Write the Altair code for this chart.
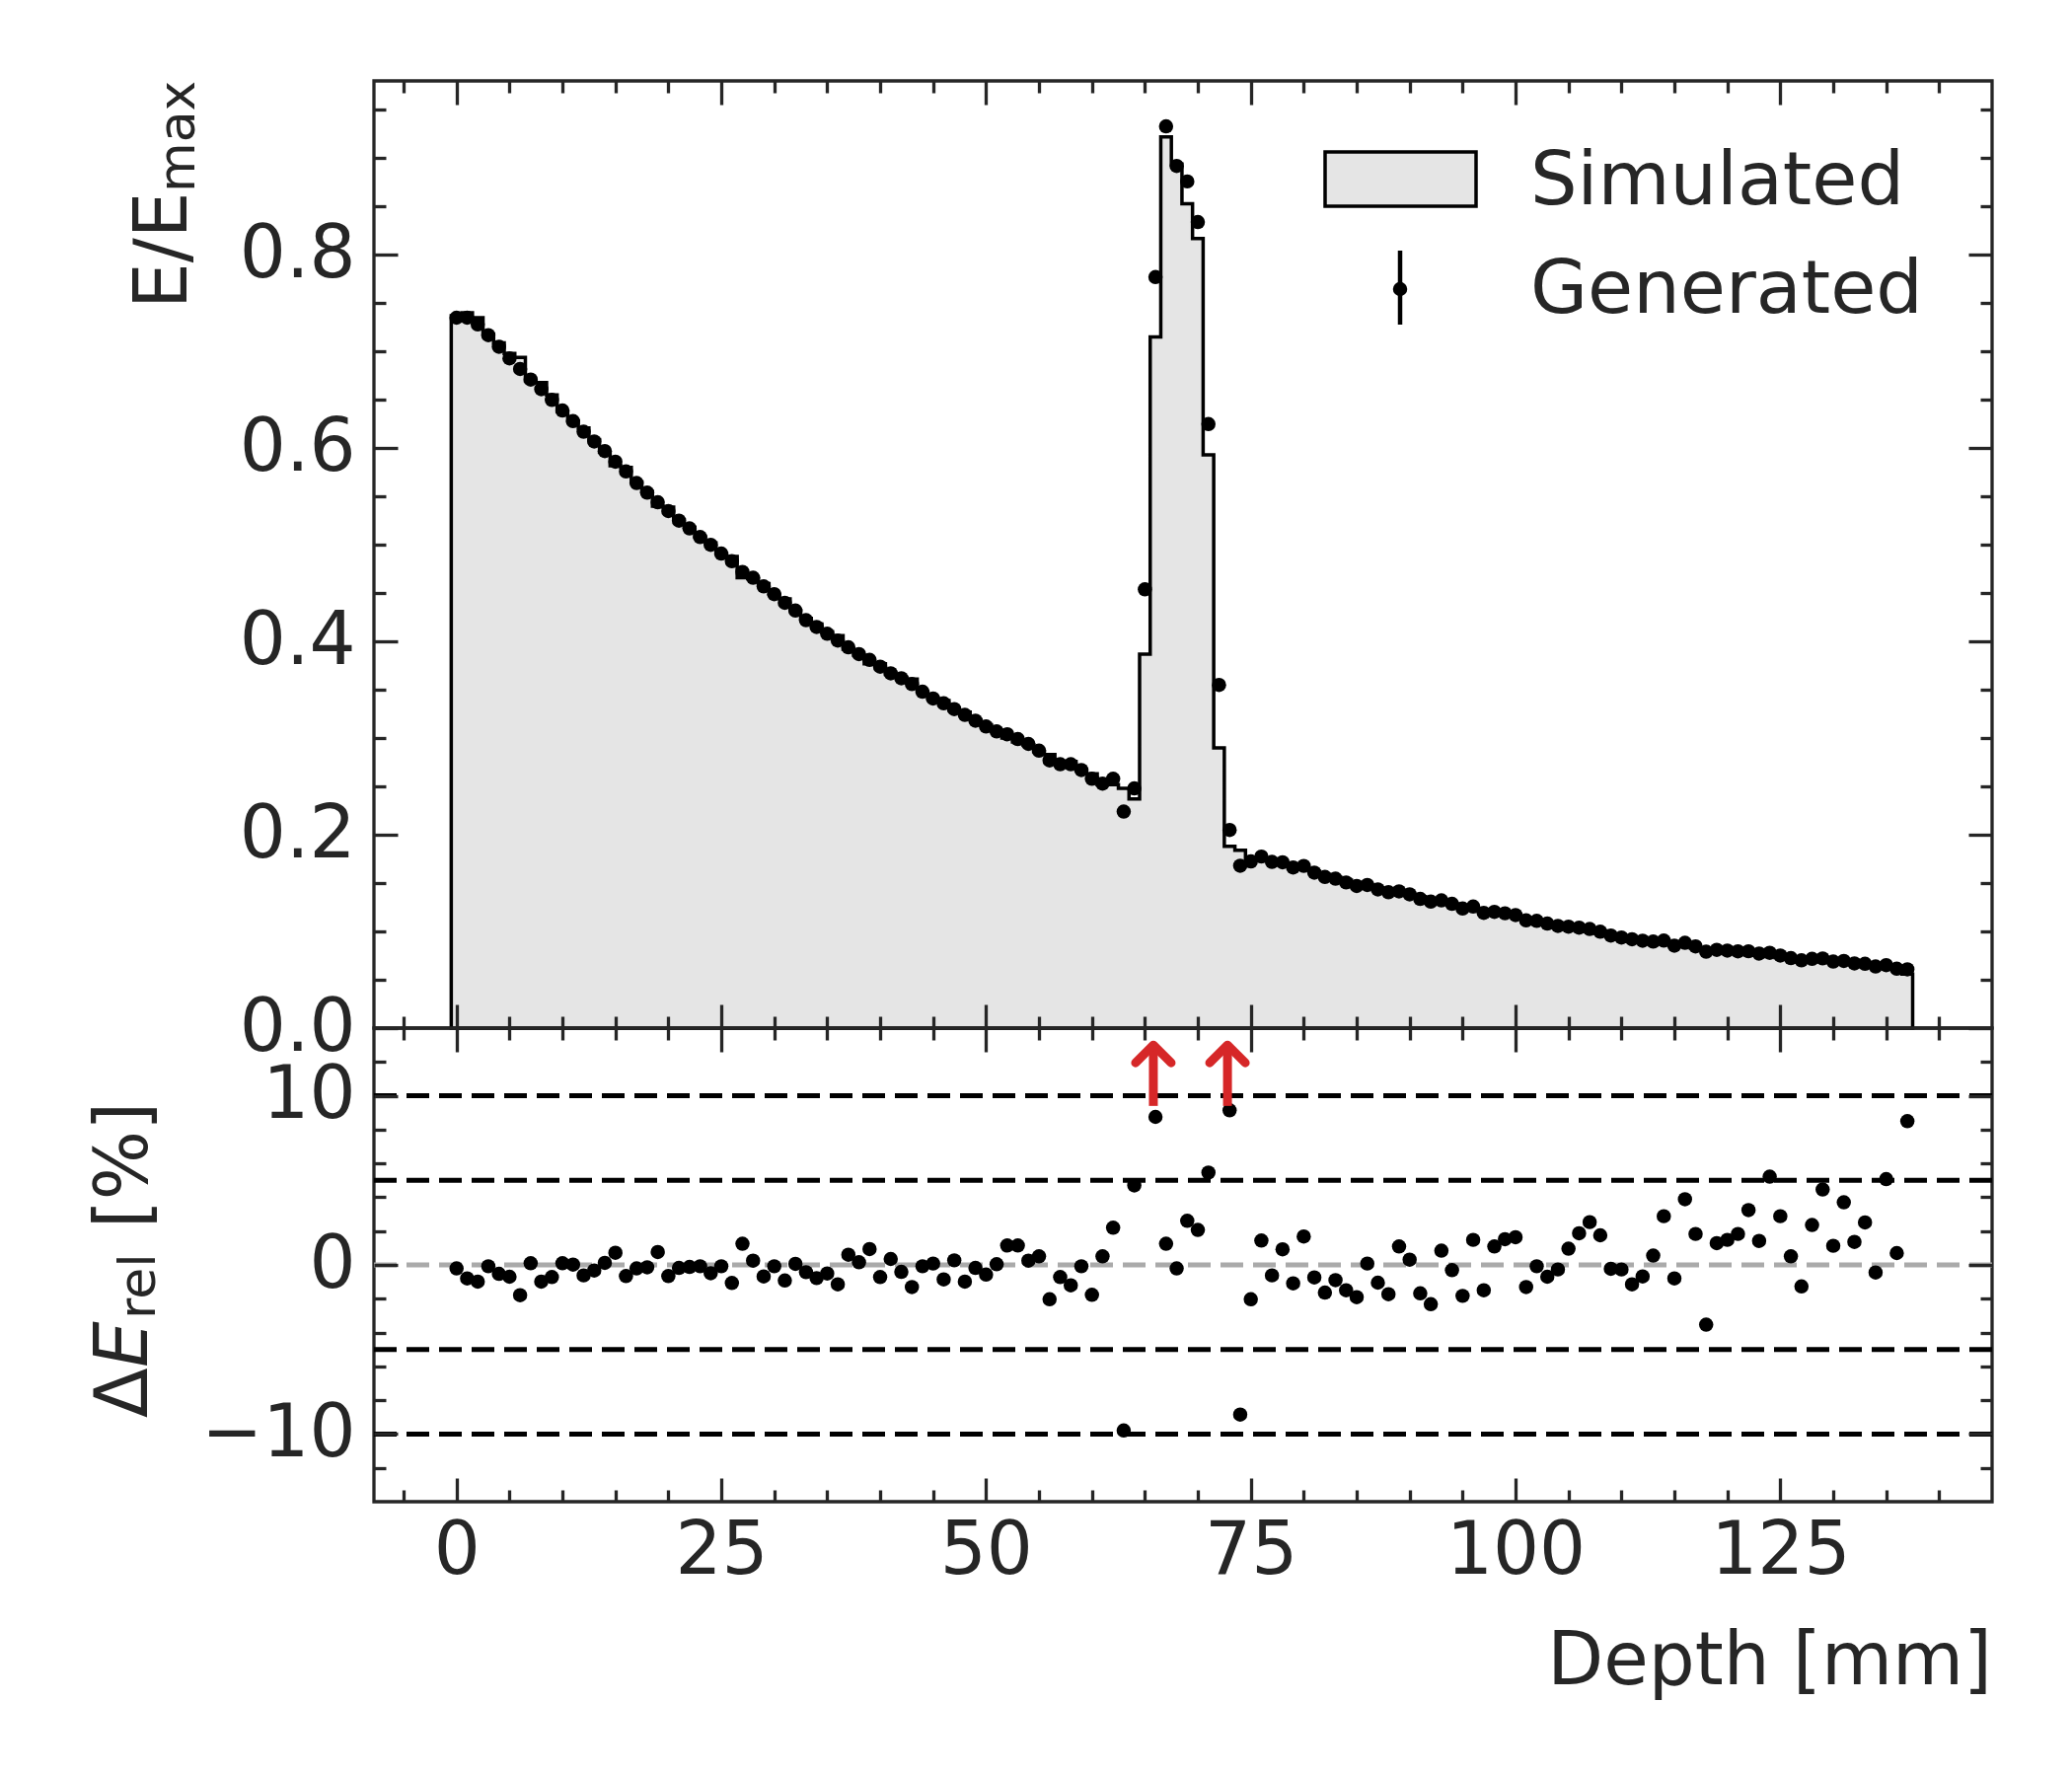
import altair as alt
import pandas as pd

# ---------------- data ----------------
depth = list(range(138))
simulated = [
    0.737, 0.740, 0.735, 0.718, 0.709, 0.698, 0.694, 0.670, 0.668, 0.655,
    0.638, 0.628, 0.621, 0.609, 0.596, 0.582, 0.580, 0.565, 0.555, 0.540,
    0.539, 0.526, 0.518, 0.508, 0.502, 0.491, 0.488, 0.466, 0.465, 0.460,
    0.449, 0.444, 0.432, 0.424, 0.418, 0.410, 0.406, 0.392, 0.386, 0.377,
    0.377, 0.366, 0.363, 0.361, 0.348, 0.341, 0.339, 0.329, 0.327, 0.319,
    0.314, 0.307, 0.300, 0.296, 0.293, 0.286, 0.283, 0.275, 0.276, 0.267,
    0.263, 0.252, 0.252, 0.248, 0.237, 0.387, 0.715, 0.922, 0.894, 0.853,
    0.817, 0.593, 0.290, 0.188, 0.184, 0.176, 0.175, 0.173, 0.170, 0.168,
    0.165, 0.162, 0.159, 0.156, 0.153, 0.150, 0.148, 0.145, 0.143, 0.140,
    0.138, 0.136, 0.134, 0.131, 0.129, 0.126, 0.124, 0.121, 0.119, 0.117,
    0.115, 0.113, 0.111, 0.109, 0.106, 0.104, 0.102, 0.100, 0.098, 0.096,
    0.094, 0.093, 0.091, 0.089, 0.088, 0.086, 0.085, 0.083, 0.082, 0.080,
    0.079, 0.078, 0.077, 0.076, 0.074, 0.073, 0.072, 0.071, 0.070, 0.069,
    0.068, 0.067, 0.066, 0.065, 0.064, 0.062, 0.061, 0.056,
]
generated = [
    0.735, 0.735, 0.728, 0.717, 0.705, 0.693, 0.682, 0.671, 0.661, 0.650,
    0.639, 0.628, 0.617, 0.607, 0.597, 0.586, 0.576, 0.564, 0.554, 0.544,
    0.535, 0.525, 0.517, 0.508, 0.500, 0.491, 0.483, 0.472, 0.466, 0.457,
    0.449, 0.440, 0.432, 0.422, 0.415, 0.408, 0.401, 0.394, 0.387, 0.381,
    0.374, 0.367, 0.362, 0.356, 0.348, 0.341, 0.336, 0.330, 0.324, 0.318,
    0.312, 0.307, 0.304, 0.299, 0.294, 0.287, 0.277, 0.273, 0.273, 0.267,
    0.258, 0.253, 0.258, 0.224, 0.248, 0.454, 0.777, 0.933, 0.892, 0.876,
    0.834, 0.625, 0.355, 0.205, 0.168, 0.1724, 0.1775, 0.1719, 0.1716, 0.1662,
    0.1678, 0.1608, 0.1564, 0.1546, 0.1507, 0.1471, 0.1481, 0.1435, 0.1405, 0.1415,
    0.1384, 0.1337, 0.1309, 0.1321, 0.1286, 0.1237, 0.1258, 0.1192, 0.1203, 0.1188,
    0.1169, 0.1115, 0.1109, 0.1082, 0.1057, 0.1050, 0.1039, 0.1025, 0.0997, 0.0958,
    0.0937, 0.0919, 0.0904, 0.0895, 0.0905, 0.0853, 0.0883, 0.0845, 0.0791, 0.0810,
    0.0802, 0.0794, 0.0795, 0.0771, 0.0779, 0.0751, 0.0724, 0.0701, 0.0717, 0.0721,
    0.0688, 0.0695, 0.0669, 0.0666, 0.0637, 0.0651, 0.0614, 0.0608,
]
residual = [
    -0.21, -0.80, -0.99, -0.08, -0.53, -0.70, -1.79, 0.10, -0.99, -0.72,
    0.10, 0.02, -0.62, -0.33, 0.12, 0.72, -0.66, -0.21, -0.14, 0.76,
    -0.66, -0.18, -0.12, -0.08, -0.49, -0.08, -1.07, 1.25, 0.25, -0.68,
    -0.08, -0.92, 0.06, -0.43, -0.78, -0.51, -1.15, 0.60, 0.16, 0.94,
    -0.72, 0.35, -0.41, -1.31, -0.08, 0.08, -0.86, 0.27, -0.99, -0.18,
    -0.57, 0.04, 1.15, 1.15, 0.25, 0.51, -2.03, -0.72, -1.21, -0.08,
    -1.77, 0.51, 2.20, -9.79, 4.70, None, 8.75, 1.25, -0.21, 2.61,
    2.07, 5.46, None, 9.14, -8.85, -2.03, 1.44, -0.62, 0.92, -1.09,
    1.68, -0.74, -1.64, -0.90, -1.50, -1.91, 0.08, -1.05, -1.73, 1.09,
    0.31, -1.68, -2.32, 0.84, -0.31, -1.83, 1.48, -1.50, 1.09, 1.52,
    1.64, -1.31, -0.08, -0.70, -0.27, 0.96, 1.87, 2.53, 1.75, -0.23,
    -0.27, -1.15, -0.68, 0.55, 2.88, -0.80, 3.88, 1.83, -3.53, 1.29,
    1.48, 1.83, 3.24, 1.42, 5.22, 2.88, 0.51, -1.27, 2.36, 4.46,
    1.13, 3.70, 1.36, 2.51, -0.45, 5.07, 0.70, 8.50,
]
arrow_depth = [65.8, 72.8]
arrow_from = [9.4, 9.4]
arrow_to = [13.0, 13.0]
ref_lines = [10, 5, -5, -10]
zero_line = [0]
x_major = [0, 25, 50, 75, 100, 125]
x_minor = [-5, 5, 10, 15, 20, 30, 35, 40, 45, 55, 60, 65, 70, 80, 85, 90, 95,
           105, 110, 115, 120, 130, 135, 140]
y_top_major = [0.0, 0.2, 0.4, 0.6, 0.8]
y_top_minor = [0.05, 0.1, 0.15, 0.25, 0.3, 0.35, 0.45, 0.5, 0.55, 0.65, 0.7,
               0.75, 0.85, 0.9, 0.95]
y_bot_major = [-10, 0, 10]
y_bot_minor = [-12, -8, -6, -4, -2, 2, 4, 6, 8, 12]
legend_labels = ["Simulated", "Generated"]
x_title = "Depth [mm]"

# ---------------- style ----------------
W, H1, H2 = 1640, 960, 480
INK = "#262626"
FONT = "DejaVu Sans"
FS = 74
FS_SUB = 52
FILL = "#e5e5e5"
RED = "#d62728"

xs = alt.Scale(domain=[-7.8, 145.0], nice=False, zero=False)
ys1 = alt.Scale(domain=[0, 0.98], nice=False, zero=False)
ys2 = alt.Scale(domain=[-14, 14], nice=False, zero=False)


def tick_axis(orient, values, size, offset):
    return alt.Axis(orient=orient, values=values, tickSize=size, offset=offset,
                    labels=False, domain=False, grid=False, ticks=True,
                    tickWidth=3.3, tickColor=INK, title=None, zindex=2)


def label_axis(orient, values, fmt, pad):
    return alt.Axis(orient=orient, values=values, format=fmt, ticks=False,
                    tickSize=0, labelPadding=pad, labelFontSize=FS,
                    labelFont=FONT, labelColor=INK, domain=False, grid=False,
                    title=None, zindex=2, labelOverlap=False)


one = pd.DataFrame({"k": [0]})

# ---------------- top panel ----------------
hist_df = pd.DataFrame({
    "edge": [d - 0.5 for d in depth] + [depth[-1] + 0.5],
    "sim": simulated + [simulated[-1]],
})
gen_df = pd.DataFrame({"depth": depth, "gen": generated})

area = alt.Chart(hist_df).mark_area(
    interpolate="step-after", fill=FILL, stroke="black", strokeWidth=3.5
).encode(
    x=alt.X("edge:Q", scale=xs, axis=tick_axis("top", x_major, 24, -H1)),
    y=alt.Y("sim:Q", scale=ys1, axis=label_axis("left", y_top_major, ".1f", 19)),
)
dots = alt.Chart(gen_df).mark_circle(size=210, color="black", opacity=1).encode(
    x=alt.X("depth:Q", scale=xs, axis=tick_axis("top", x_minor, 12, -H1)),
    y=alt.Y("gen:Q", scale=ys1, axis=tick_axis("right", y_top_major, 24, -W)),
)
inv_t1 = alt.Chart(gen_df).mark_point(opacity=0).encode(
    x=alt.X("depth:Q", scale=xs, axis=tick_axis("bottom", x_major, 24, -H1)),
    y=alt.Y("gen:Q", scale=ys1, axis=tick_axis("right", y_top_minor, 12, -W)),
)
inv_t2 = alt.Chart(gen_df).mark_point(opacity=0).encode(
    x=alt.X("depth:Q", scale=xs, axis=tick_axis("bottom", x_minor, 12, -H1)),
    y=alt.Y("gen:Q", scale=ys1, axis=tick_axis("left", y_top_major, 24, -W)),
)
inv_t3 = alt.Chart(gen_df).mark_point(opacity=0).encode(
    x=alt.X("depth:Q", scale=xs, axis=None),
    y=alt.Y("gen:Q", scale=ys1, axis=tick_axis("left", y_top_minor, 12, -W)),
)

leg_rect = alt.Chart(one).mark_rect(fill=FILL, stroke="black", strokeWidth=3.5).encode(
    x=alt.value(964), x2=alt.value(1117), y=alt.value(72), y2=alt.value(127))
leg_bar = alt.Chart(one).mark_rule(color="black", strokeWidth=4.5).encode(
    x=alt.value(1040), y=alt.value(172), y2=alt.value(247))
leg_dot = alt.Chart(one).mark_circle(size=210, color="black", opacity=1).encode(
    x=alt.value(1040), y=alt.value(211))
txt = dict(font=FONT, color=INK, baseline="alphabetic", align="left")
leg_t1 = alt.Chart(one).mark_text(text=legend_labels[0], fontSize=75, **txt).encode(
    x=alt.value(1172), y=alt.value(125))
leg_t2 = alt.Chart(one).mark_text(text=legend_labels[1], fontSize=75, **txt).encode(
    x=alt.value(1172), y=alt.value(235))

ylab_a = alt.Chart(one).mark_text(text="E/E", fontSize=FS, angle=270, **txt).encode(
    x=alt.value(-190), y=alt.value(231))
ylab_b = alt.Chart(one).mark_text(text="max", fontSize=FS_SUB, angle=270, **txt).encode(
    x=alt.value(-182), y=alt.value(113))

top = alt.layer(
    area, dots, inv_t1, inv_t2, inv_t3,
    leg_rect, leg_bar, leg_dot, leg_t1, leg_t2, ylab_a, ylab_b,
).resolve_axis(x="independent", y="independent").properties(width=W, height=H1)

# ---------------- bottom panel ----------------
res_df = pd.DataFrame({"depth": depth, "res": residual}).dropna()
arr_df = pd.DataFrame({"x": arrow_depth, "y0": arrow_from, "y1": arrow_to})

hlines = alt.Chart(pd.DataFrame({"v": ref_lines})).mark_rule(
    color="black", strokeWidth=5, strokeDash=[23, 10]
).encode(y=alt.Y("v:Q", scale=ys2, axis=None))
zline = alt.Chart(pd.DataFrame({"v": zero_line})).mark_rule(
    color="#aaaaaa", strokeWidth=5, strokeDash=[23, 10]
).encode(y=alt.Y("v:Q", scale=ys2, axis=None))
rdots = alt.Chart(res_df).mark_circle(size=210, color="black", opacity=1).encode(
    x=alt.X("depth:Q", scale=xs, axis=label_axis("bottom", x_major, "d", 14)),
    y=alt.Y("res:Q", scale=ys2, axis=label_axis("left", y_bot_major, "d", 19)),
)
inv_b1 = alt.Chart(res_df).mark_point(opacity=0).encode(
    x=alt.X("depth:Q", scale=xs, axis=tick_axis("top", x_major, 24, -H2)),
    y=alt.Y("res:Q", scale=ys2, axis=tick_axis("right", y_bot_major, 24, -W)),
)
inv_b2 = alt.Chart(res_df).mark_point(opacity=0).encode(
    x=alt.X("depth:Q", scale=xs, axis=tick_axis("top", x_minor, 12, -H2)),
    y=alt.Y("res:Q", scale=ys2, axis=tick_axis("right", y_bot_minor, 12, -W)),
)
inv_b3 = alt.Chart(res_df).mark_point(opacity=0).encode(
    x=alt.X("depth:Q", scale=xs, axis=tick_axis("bottom", x_major, 24, -H2)),
    y=alt.Y("res:Q", scale=ys2, axis=tick_axis("left", y_bot_major, 24, -W)),
)
inv_b4 = alt.Chart(res_df).mark_point(opacity=0).encode(
    x=alt.X("depth:Q", scale=xs, axis=tick_axis("bottom", x_minor, 12, -H2)),
    y=alt.Y("res:Q", scale=ys2, axis=tick_axis("left", y_bot_minor, 12, -W)),
)
shaft = alt.Chart(arr_df).mark_rule(color=RED, strokeWidth=9).encode(
    x=alt.X("x:Q", scale=xs, axis=None),
    y=alt.Y("y0:Q", scale=ys2, axis=None),
    y2="y1:Q",
)
head = alt.Chart(arr_df).mark_point(
    shape="M-1,1L0,0L1,1", filled=False, stroke=RED, strokeWidth=9,
    size=1300, opacity=1, strokeCap="round", strokeJoin="round",
).encode(
    x=alt.X("x:Q", scale=xs, axis=None),
    y=alt.Y("y1:Q", scale=ys2, axis=None),
)

xlab = alt.Chart(one).mark_text(text=x_title, fontSize=FS, font=FONT, color=INK,
                                baseline="alphabetic", align="right").encode(
    x=alt.value(W), y=alt.value(H2 + 185))
rl_a = alt.Chart(one).mark_text(text="Δ", fontSize=FS, angle=270, **txt).encode(
    x=alt.value(-230), y=alt.value(395))
rl_b = alt.Chart(one).mark_text(text="E", fontSize=FS, angle=270, fontStyle="italic", **txt).encode(
    x=alt.value(-230), y=alt.value(344))
rl_c = alt.Chart(one).mark_text(text="rel", fontSize=FS_SUB, angle=270, **txt).encode(
    x=alt.value(-222), y=alt.value(295))
rl_d = alt.Chart(one).mark_text(text="[%]", fontSize=FS, angle=270, **txt).encode(
    x=alt.value(-230), y=alt.value(203))

bottom = alt.layer(
    hlines, zline, rdots, inv_b1, inv_b2, inv_b3, inv_b4, shaft, head,
    xlab, rl_a, rl_b, rl_c, rl_d,
).resolve_axis(x="independent", y="independent").properties(width=W, height=H2)

chart = alt.vconcat(top, bottom, spacing=0).properties(
    bounds="flush",
    padding={"left": 80, "top": 70, "right": 60, "bottom": 60},
    background="white",
).configure_view(stroke=INK, strokeWidth=3.3).configure_axis(grid=False)

chart.save("out.html", embed_options={"renderer": "svg", "actions": False})
